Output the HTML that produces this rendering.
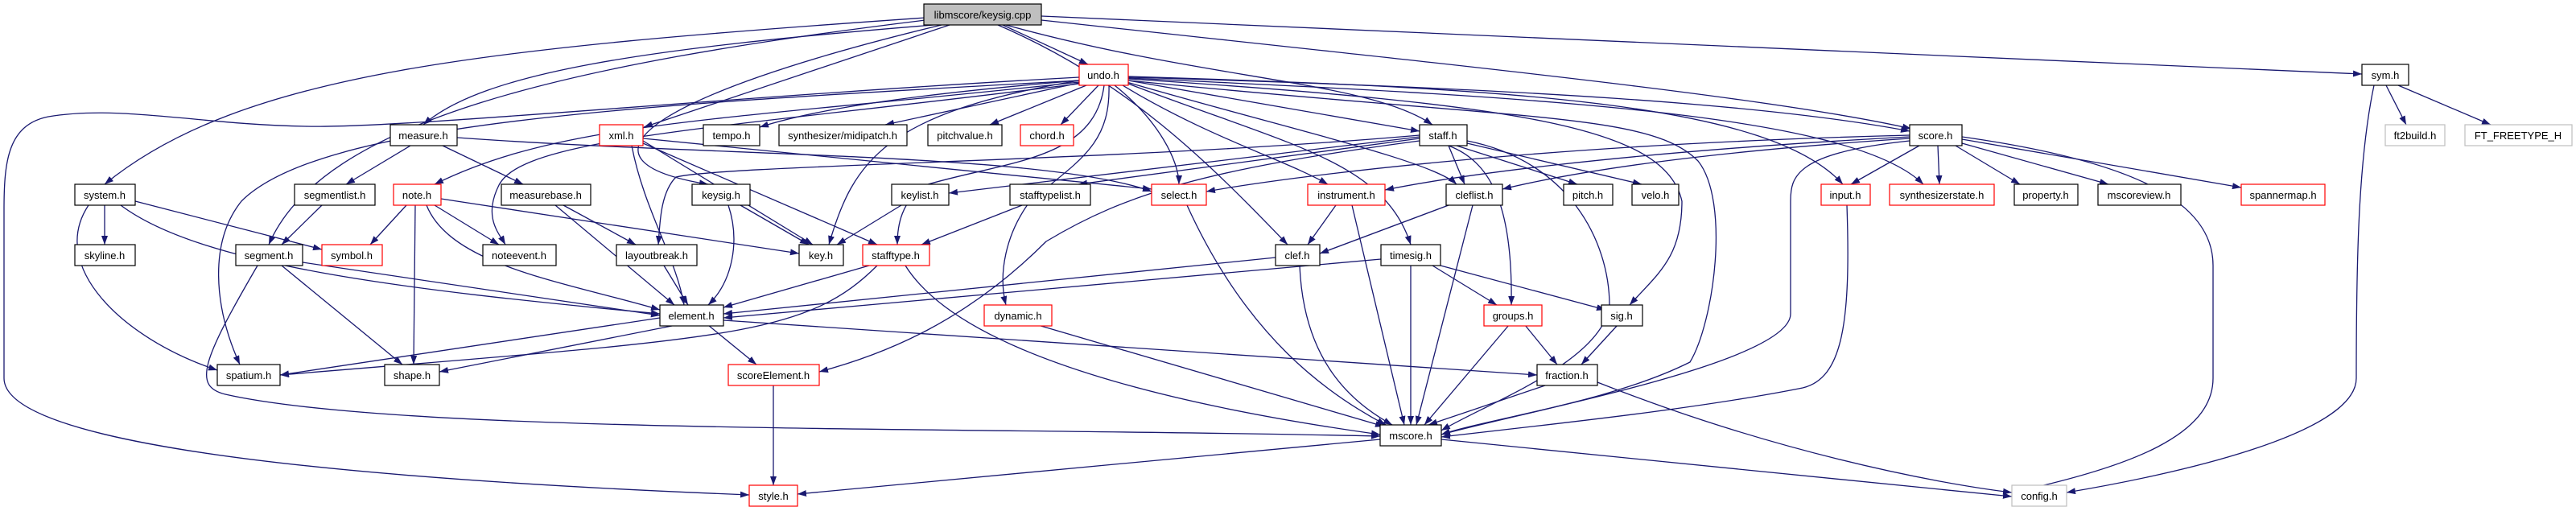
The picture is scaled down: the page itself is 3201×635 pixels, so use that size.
<!DOCTYPE html>
<html><head><meta charset="utf-8"><style>
html,body{margin:0;padding:0;background:#fff;}
svg{display:block;}
text{font-family:"Liberation Sans",Arial,sans-serif;font-size:13px;fill:#000;text-anchor:middle;}
.e{fill:none;stroke:#191970;stroke-width:1.3;marker-end:url(#a);}
.n{fill:#fff;stroke:#000;stroke-width:1.2;}
.r{fill:#fff;stroke:#ff0000;stroke-width:1.2;}
.g{fill:#fff;stroke:#bfbfbf;stroke-width:1.2;}
</style></head><body>
<svg width="3201" height="635" viewBox="0 0 3201 635" xmlns="http://www.w3.org/2000/svg">
<defs><marker id="a" markerUnits="userSpaceOnUse" markerWidth="12" markerHeight="10" refX="11" refY="4" orient="auto"><path d="M0,0 L11,4 L0,8 z" fill="#191970"/></marker></defs>
<g>
<!-- keysig.cpp -->
<path class="e" d="M1150,22 C600,60 300,90 130,229"/>
<path class="e" d="M1150,25 C700,80 400,150 334,304"/>
<path class="e" d="M1160,31 C800,60 600,90 526,155"/>
<path class="e" d="M1180,31 L800,158"/>
<path class="e" d="M1170,31 C800,120 700,200 880,229"/>
<path class="e" d="M1246,31 L1352,80"/>
<path class="e" d="M1250,31 C1500,100 1700,100 1780,155"/>
<path class="e" d="M1240,31 C1400,100 1500,200 1600,304"/>
<path class="e" d="M1294,25 C1800,80 2200,120 2375,160"/>
<path class="e" d="M1294,20 L2935,92"/>
<!-- undo.h -->
<path class="e" d="M1341,96 C900,120 500,160 380,157 C250,155 150,130 60,145 C10,155 5,200 5,260 L5,470 C5,540 300,590 931,615"/>
<path class="e" d="M1341,100 C800,130 400,150 300,250 C260,300 265,380 298,453"/>
<path class="e" d="M1341,102 C900,150 700,150 540,229"/>
<path class="e" d="M1341,104 C900,160 650,170 620,230 C600,270 620,290 628,304"/>
<path class="e" d="M1341,100 C1100,120 1000,140 944,158"/>
<path class="e" d="M1341,103 L1100,155"/>
<path class="e" d="M1350,106 L1230,155"/>
<path class="e" d="M1365,106 L1318,155"/>
<path class="e" d="M1378,106 C1380,180 1340,200 1280,250 C1250,290 1240,340 1250,379"/>
<path class="e" d="M1385,106 C1440,150 1465,200 1465,229"/>
<path class="e" d="M1372,106 C1360,200 1250,200 1150,230 C1120,250 1115,280 1115,304"/>
<path class="e" d="M1395,106 C1500,170 1600,200 1650,229"/>
<path class="e" d="M1400,102 C1600,160 1780,200 1810,229"/>
<path class="e" d="M1402,104 C1600,180 1720,200 1753,304"/>
<path class="e" d="M1402,100 L1764,163"/>
<path class="e" d="M1402,96 C1900,110 2200,130 2373,163"/>
<path class="e" d="M1402,95 C1900,110 2200,130 2290,229"/>
<path class="e" d="M1402,97 C1900,120 2300,140 2390,229"/>
<path class="e" d="M1402,100 C1900,150 2050,140 2110,200 C2150,250 2130,400 2100,450 C2000,500 1850,520 1791,540"/>
<path class="e" d="M1402,98 C1900,130 2070,160 2090,250 C2090,320 2060,340 2025,379"/>
<path class="e" d="M1341,100 C1100,140 1060,200 1030,304"/>
<!-- measure.h -->
<path class="e" d="M510,181 L430,229"/>
<path class="e" d="M550,181 L650,229"/>
<path class="e" d="M568,171 C900,195 1300,190 1431,238"/>
<!-- xml.h -->
<path class="e" d="M785,181 C800,260 840,320 850,379"/>
<path class="e" d="M799,175 L1010,304"/>
<path class="e" d="M799,178 L1090,304"/>
<path class="e" d="M799,172 L1431,235"/>
<!-- system.h -->
<path class="e" d="M130,255 L130,304"/>
<path class="e" d="M168,250 L400,310"/>
<path class="e" d="M150,255 C250,330 500,360 820,390"/>
<path class="e" d="M110,255 C60,330 150,420 270,460"/>
<path class="e" d="M400,255 L350,304"/>
<!-- note.h -->
<path class="e" d="M505,255 L460,304"/>
<path class="e" d="M540,255 L620,304"/>
<path class="e" d="M530,255 C560,330 700,350 820,385"/>
<path class="e" d="M516,255 L514,453"/>
<path class="e" d="M548,247 L993,315"/>
<path class="e" d="M700,255 L790,304"/>
<path class="e" d="M690,255 L838,379"/>
<path class="e" d="M920,255 L1005,304"/>
<path class="e" d="M905,255 C920,300 910,350 880,379"/>
<path class="e" d="M1120,255 L1040,304"/>
<path class="e" d="M1270,255 L1145,304"/>
<!-- segment.h -->
<path class="e" d="M376,326 L820,392"/>
<path class="e" d="M350,330 L500,453"/>
<path class="e" d="M320,330 C250,450 240,480 280,490 C500,540 1200,530 1715,542"/>
<path class="e" d="M825,330 L855,379"/>
<!-- stafftype.h -->
<path class="e" d="M1080,330 L899,382"/>
<path class="e" d="M1090,330 C1000,420 900,420 348,466"/>
<path class="e" d="M1125,330 C1200,450 1500,510 1715,540"/>
<!-- clef/timesig -->
<path class="e" d="M1585,320 L899,390"/>
<path class="e" d="M1615,330 C1620,450 1680,500 1730,528"/>
<path class="e" d="M1716,322 L899,395"/>
<path class="e" d="M1780,330 L1860,379"/>
<path class="e" d="M1790,330 L1995,385"/>
<path class="e" d="M1753,330 L1753,528"/>
<path class="e" d="M1475,255 C1550,420 1650,490 1722,528"/>
<path class="e" d="M1660,255 L1625,304"/>
<path class="e" d="M1680,255 L1745,528"/>
<path class="e" d="M1800,255 L1640,315"/>
<path class="e" d="M1830,255 L1760,528"/>
<!-- staff.h -->
<path class="e" d="M1764,170 L1179,240"/>
<path class="e" d="M1764,172 L1340,229"/>
<path class="e" d="M1800,181 L1820,229"/>
<path class="e" d="M1810,181 L1960,229"/>
<path class="e" d="M1823,178 L2040,229"/>
<path class="e" d="M1800,181 C1850,200 1880,250 1878,379"/>
<path class="e" d="M1823,175 C1950,200 2000,300 2000,380 C1990,450 1850,500 1791,535"/>
<path class="e" d="M1764,175 C1500,210 1400,240 1300,300 C1200,400 1100,440 1018,462"/>
<path class="e" d="M1764,168 C1400,200 900,205 840,220 C820,240 820,280 818,304"/>
<!-- score.h -->
<path class="e" d="M2385,181 L2300,229"/>
<path class="e" d="M2408,181 L2410,229"/>
<path class="e" d="M2430,181 L2510,229"/>
<path class="e" d="M2438,178 L2620,229"/>
<path class="e" d="M2438,173 L2785,233"/>
<path class="e" d="M2438,170 C2650,200 2750,250 2750,330 L2750,470 C2750,540 2650,580 2500,612"/>
<path class="e" d="M2373,168 C1900,180 1600,220 1499,238"/>
<path class="e" d="M2373,170 C2000,190 1800,220 1721,236"/>
<path class="e" d="M2373,172 C2100,190 1950,215 1867,235"/>
<path class="e" d="M2373,175 C2230,190 2225,220 2225,250 L2225,390 C2225,450 1900,510 1791,540"/>
<path class="e" d="M2295,255 C2300,400 2290,470 2240,482 C2100,510 1900,530 1791,543"/>
<!-- lower -->
<path class="e" d="M1985,475 C2200,560 2400,600 2500,612"/>
<path class="e" d="M1791,546 L2500,617"/>
<path class="e" d="M1715,546 L991,614"/>
<path class="e" d="M2965,106 L2990,155"/>
<path class="e" d="M2980,106 L3095,155"/>
<path class="e" d="M2950,106 C2930,200 2928,330 2928,470 C2928,540 2700,590 2568,612"/>
<path class="e" d="M820,395 L348,466"/>
<path class="e" d="M840,404 L546,462"/>
<path class="e" d="M880,404 L940,453"/>
<path class="e" d="M899,398 L1910,466"/>
<path class="e" d="M1290,404 L1720,530"/>
<path class="e" d="M1875,404 L1770,528"/>
<path class="e" d="M1895,404 L1935,453"/>
<path class="e" d="M2010,404 L1965,453"/>
<path class="e" d="M961,479 L961,603"/>
<path class="e" d="M1920,479 L1775,528"/>
</g>
<g>
<rect x="1148" y="5" width="146" height="26" fill="#bfbfbf" stroke="#000" stroke-width="1.2"/><text x="1221" y="23">libmscore/keysig.cpp</text>
<rect class="r" x="1341" y="80" width="61" height="26"/><text x="1371" y="98">undo.h</text>
<rect class="n" x="2935" y="80" width="58" height="26"/><text x="2964" y="98">sym.h</text>
<rect class="n" x="485" y="155" width="83" height="26"/><text x="526" y="173">measure.h</text>
<rect class="r" x="745" y="155" width="54" height="26"/><text x="772" y="173">xml.h</text>
<rect class="n" x="874" y="155" width="70" height="26"/><text x="909" y="173">tempo.h</text>
<rect class="n" x="968" y="155" width="159" height="26"/><text x="1047" y="173">synthesizer/midipatch.h</text>
<rect class="n" x="1153" y="155" width="92" height="26"/><text x="1199" y="173">pitchvalue.h</text>
<rect class="r" x="1268" y="155" width="66" height="26"/><text x="1301" y="173">chord.h</text>
<rect class="n" x="1764" y="155" width="59" height="26"/><text x="1793" y="173">staff.h</text>
<rect class="n" x="2373" y="155" width="65" height="26"/><text x="2405" y="173">score.h</text>
<rect class="g" x="2964" y="155" width="74" height="26"/><text x="3001" y="173">ft2build.h</text>
<rect class="g" x="3063" y="155" width="133" height="26"/><text x="3129" y="173">FT_FREETYPE_H</text>
<rect class="n" x="93" y="229" width="75" height="26"/><text x="130" y="247">system.h</text>
<rect class="n" x="366" y="229" width="100" height="26"/><text x="416" y="247">segmentlist.h</text>
<rect class="r" x="489" y="229" width="59" height="26"/><text x="518" y="247">note.h</text>
<rect class="n" x="623" y="229" width="111" height="26"/><text x="678" y="247">measurebase.h</text>
<rect class="n" x="860" y="229" width="72" height="26"/><text x="896" y="247">keysig.h</text>
<rect class="n" x="1108" y="229" width="71" height="26"/><text x="1143" y="247">keylist.h</text>
<rect class="n" x="1255" y="229" width="100" height="26"/><text x="1305" y="247">stafftypelist.h</text>
<rect class="r" x="1431" y="229" width="68" height="26"/><text x="1465" y="247">select.h</text>
<rect class="r" x="1625" y="229" width="96" height="26"/><text x="1673" y="247">instrument.h</text>
<rect class="n" x="1797" y="229" width="70" height="26"/><text x="1832" y="247">cleflist.h</text>
<rect class="n" x="1943" y="229" width="61" height="26"/><text x="1973" y="247">pitch.h</text>
<rect class="n" x="2028" y="229" width="58" height="26"/><text x="2057" y="247">velo.h</text>
<rect class="r" x="2263" y="229" width="61" height="26"/><text x="2293" y="247">input.h</text>
<rect class="r" x="2348" y="229" width="130" height="26"/><text x="2413" y="247">synthesizerstate.h</text>
<rect class="n" x="2503" y="229" width="79" height="26"/><text x="2542" y="247">property.h</text>
<rect class="n" x="2607" y="229" width="103" height="26"/><text x="2658" y="247">mscoreview.h</text>
<rect class="r" x="2785" y="229" width="104" height="26"/><text x="2837" y="247">spannermap.h</text>
<rect class="n" x="93" y="304" width="75" height="26"/><text x="130" y="322">skyline.h</text>
<rect class="n" x="293" y="304" width="83" height="26"/><text x="334" y="322">segment.h</text>
<rect class="r" x="400" y="304" width="75" height="26"/><text x="437" y="322">symbol.h</text>
<rect class="n" x="600" y="304" width="91" height="26"/><text x="645" y="322">noteevent.h</text>
<rect class="n" x="766" y="304" width="100" height="26"/><text x="816" y="322">layoutbreak.h</text>
<rect class="n" x="993" y="304" width="55" height="26"/><text x="1020" y="322">key.h</text>
<rect class="r" x="1072" y="304" width="83" height="26"/><text x="1113" y="322">stafftype.h</text>
<rect class="n" x="1585" y="304" width="55" height="26"/><text x="1612" y="322">clef.h</text>
<rect class="n" x="1716" y="304" width="74" height="26"/><text x="1753" y="322">timesig.h</text>
<rect class="n" x="820" y="379" width="79" height="26"/><text x="859" y="397">element.h</text>
<rect class="r" x="1223" y="379" width="84" height="26"/><text x="1265" y="397">dynamic.h</text>
<rect class="r" x="1844" y="379" width="72" height="26"/><text x="1880" y="397">groups.h</text>
<rect class="n" x="1990" y="379" width="51" height="26"/><text x="2015" y="397">sig.h</text>
<rect class="n" x="270" y="453" width="78" height="26"/><text x="309" y="471">spatium.h</text>
<rect class="n" x="478" y="453" width="68" height="26"/><text x="512" y="471">shape.h</text>
<rect class="r" x="905" y="453" width="113" height="26"/><text x="961" y="471">scoreElement.h</text>
<rect class="n" x="1910" y="453" width="75" height="26"/><text x="1947" y="471">fraction.h</text>
<rect class="n" x="1715" y="528" width="76" height="26"/><text x="1753" y="546">mscore.h</text>
<rect class="r" x="931" y="603" width="60" height="26"/><text x="961" y="621">style.h</text>
<rect class="g" x="2500" y="603" width="68" height="26"/><text x="2534" y="621">config.h</text>
</g>
</svg>
</body></html>
